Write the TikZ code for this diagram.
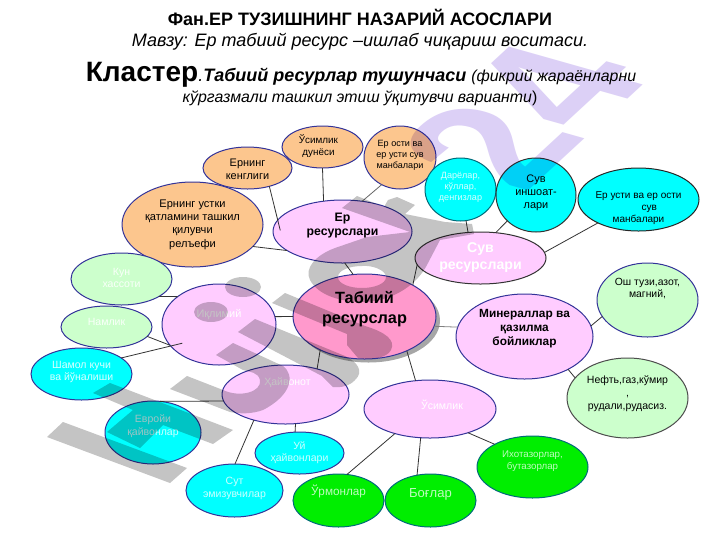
\documentclass[tikz,border=0pt]{standalone}
\usepackage{fontspec}
\usetikzlibrary{shapes.geometric}
\setmainfont{Liberation Sans}
\newcommand\fs[1]{\fontsize{#1}{1.2\dimexpr#1pt\relax}\selectfont}
\newcommand\lab[3]{\raisebox{\dimexpr #2pt*3/4-0.25em\relax}[0pt][0pt]{\makebox[0pt]{\hspace*{\dimexpr #1pt*3/2\relax}\begin{tabular}{@{}c@{}}#3\end{tabular}}}}
\definecolor{cOrange}{HTML}{FCC68E}
\definecolor{cLilac}{HTML}{FFCCFF}
\definecolor{cPink}{HTML}{FF99CC}
\definecolor{cPale}{HTML}{CCFFCC}
\definecolor{cCyan}{HTML}{00FFFF}
\definecolor{cGreen}{HTML}{00EE00}
\definecolor{cEdge}{HTML}{333399}
\definecolor{cTeal}{HTML}{006B7A}
\definecolor{wmGray}{HTML}{C4C4C4}
\definecolor{wmLilac}{HTML}{DCD0F6}
\tikzset{
  blob/.style={ellipse,inner sep=0pt,outer sep=0pt,draw=cEdge,line width=0.75pt},
  orangeb/.style={blob,fill=cOrange,text=black},
  lilacb/.style={blob,fill=cLilac},
  paleb/.style={blob,fill=cPale},
  cyanb/.style={blob,fill=cCyan,draw=cTeal},
  greenb/.style={blob,fill=cGreen,draw=cTeal},
  conn/.style={draw=black!80,line width=0.6pt},
  head/.style={inner sep=0pt,anchor=base,align=center},
  wmg/.style={fill=wmGray,draw=none},
}
\newcommand\blobnode[7]{\node[#6,minimum width=1.5*#4pt,minimum height=1.5*#5pt] (#1) at (#2,#3) {#7};}
\begin{document}
\begin{tikzpicture}[x=0.75pt,y=-0.75pt]
\useasboundingbox (0,0) rectangle (720,540);
\fill[white] (0,0) rectangle (720,540);
% headings
\node[head] (h1) at (360,25) {\fs{13.5}\bfseries Фан.ЕР ТУЗИШНИНГ НАЗАРИЙ АСОСЛАРИ};
\node[head] (h2) at (360,46) {\fs{13.5}\itshape Мавзу: Ер табиий ресурс –ишлаб чиқариш воситаси.};
\node[head] (h3) at (361,81) {\fs{21}\bfseries Кластер\fs{13.5}\mdseries\itshape .\bfseries Табиий ресурлар тушунчаси \fs{11.9}\mdseries (фикрий жараёнларни};
\node[head] (h4) at (360,102) {\fs{11.9}\itshape кўргазмали ташкил этиш ўқитувчи варианти\upshape)};
% shadow
\fill[black!35] (368.5,320.5) ellipse [x radius=71.5,y radius=42];
% nodes
\blobnode{ust}{192.5}{224.5}{70.5}{42.5}{orangeb,font=\fs{8.3}}{\lab{0}{0}{Ернинг устки\\қатламини ташкил\\қилувчи\\релъефи}}
\blobnode{ken}{247.5}{168}{44.5}{21}{orangeb,font=\fs{8.2}}{\lab{0}{-2}{Ернинг\\кенглиги}}
\blobnode{osim}{322.5}{147}{40.5}{21}{orangeb,font=\fs{7.4}}{\lab{-4}{0}{Ўсимлик\\дунёси}}
\blobnode{ost}{400}{157.5}{36}{31.5}{orangeb,font=\fs{6.8}}{\lab{0}{2}{Ер ости ва\\ер усти сув\\манбалари}}
\blobnode{er}{342.5}{231.5}{69.5}{31.5}{lilacb,font=\fs{9.2}\bfseries}{\lab{0}{6}{Ер\\ресурслари}}
\blobnode{dar}{460.5}{189.5}{35.5}{31.5}{cyanb,text=white!85!cCyan,font=\fs{6.8}}{\lab{0}{2}{Дарёлар,\\кўллар,\\денгизлар}}
\blobnode{ins}{536}{195}{40}{37}{cyanb,draw=black!80,font=\fs{8.2}}{\lab{0}{2}{Сув\\иншоат-\\лари}}
\blobnode{yer}{638.5}{199.5}{60.5}{31.5}{cyanb,draw=black!85,font=\fs{7.5}}{\lab{0}{-8}{Ер усти ва ер ости\\\hspace*{16pt}сув\\манбалари}}
\blobnode{suv}{480.5}{258}{65.5}{26}{lilacb,draw=black!80,text=white,font=\fs{10.6}\bfseries}{\lab{0}{0}{Сув\\ресурслари}}
\blobnode{tab}{364.5}{316.5}{71.5}{42.5}{lilacb,fill=cPink,font=\fs{12.2}\bfseries}{\lab{0}{7}{Табиий\\ресурслар}}
\blobnode{min}{524.5}{336.5}{68.5}{42.5}{lilacb,font=\fs{8.9}\bfseries}{\lab{0}{8}{Минераллар ва\\қазилма\\бойликлар}}
\blobnode{osh}{647.5}{300}{50.5}{37}{paleb,font=\fs{7.8}}{\lab{0}{11}{Ош тузи,азот,\\магний,}}
\blobnode{nef}{627.5}{398}{60.5}{40}{paleb,draw=black!70,font=\fs{7.9}}{\lab{0}{4}{Нефть,газ,кўмир\\,\\рудали,рудасиз.}}
\blobnode{usi}{430}{409}{66}{29}{lilacb,text=white,font=\fs{7.9}}{\lab{12}{2}{Ўсимлик}}
\blobnode{ixo}{532.5}{467}{55.5}{31}{greenb,text=white!75!cGreen,font=\fs{7.3}}{\lab{0}{6}{Ихотазорлар,\\бутазорлар}}
\blobnode{urm}{338.5}{500.5}{45.5}{26.5}{greenb,text=white!75!cGreen,font=\fs{8.8}}{\lab{0}{8}{Ўрмонлар}}
\blobnode{bog}{430.5}{500.5}{45.5}{26.5}{greenb,text=white!75!cGreen,font=\fs{9.8}}{\lab{0}{6}{Боғлар}}
\blobnode{hay}{285.5}{394.5}{63.5}{29.5}{lilacb,text=white,font=\fs{7.9}}{\lab{2}{12}{Ҳайвонот}}
\blobnode{sut}{234.5}{490.5}{48.5}{26.5}{cyanb,draw=cEdge,text=white!80!cCyan,font=\fs{7.9}}{\lab{0}{2}{Сут\\эмизувчилар}}
\blobnode{uy}{299.5}{453}{44.5}{21}{cyanb,draw=cEdge,text=white!80!cCyan,font=\fs{7.9}}{\lab{0}{0}{Уй\\ҳайвонлари}}
\blobnode{evr}{153}{432.5}{48}{31.5}{cyanb,draw=cEdge,text=white!80!cCyan,font=\fs{7.9}}{\lab{0}{6}{Евройи\\қайвонлар}}
\blobnode{sha}{81.5}{374}{50.5}{26}{cyanb,draw=cEdge,text=white!85!cCyan,font=\fs{7.9}}{\lab{0}{2}{Шамол кучи\\ва йўналиши}}
\blobnode{iql}{219}{324.5}{57}{40.5}{lilacb,text=white,font=\fs{8.2}}{\lab{0}{10}{Иқлимий}}
\blobnode{nam}{106.5}{327}{45.5}{21}{paleb,draw=cEdge,text=white!90!cPale,font=\fs{7.9}}{\lab{0}{4}{Намлик}}
\blobnode{kun}{121.5}{279}{50.5}{26}{paleb,draw=cEdge,text=white!90!cPale,font=\fs{7.9}}{\lab{0}{0}{Кун\\хассоти}}
% connectors
\draw[conn] (tab.105) -- (er.-86);
\draw[conn] (ust.-20) -- (er.199);
\draw[conn,shorten >=-8pt] (ken.-40) -- (er.170);
\draw[conn] (osim.-90) -- (er.122);
\draw[conn,draw=black!60] (ost.236) -- (er.57);
\draw[conn] (tab.33) -- (suv.186);
\draw[conn] (dar.-80) -- (suv.116);
\draw[conn] (ins.222) -- (suv.59);
\draw[conn] (yer.210) -- (suv.5);
\draw[conn,draw=black!50] (tab.-8) -- (min.172);
\draw[conn] (min.9) -- (osh.200);
\draw[conn] (min.-37) -- (nef.159);
\draw[conn] (tab.-39) -- (usi.117);
\draw[conn] (usi.-32) -- (ixo.149);
\draw[conn] (usi.-108) -- (bog.118);
\draw[conn] (usi.215) -- (urm.72);
\draw[conn] (tab.217) -- (hay.39);
\draw[conn] (tab.180) -- (iql.8);
\draw[conn] (hay.186) -- (evr.77);
\draw[conn] (hay.-71) -- (uy.102);
\draw[conn] (hay.219) -- (sut.89);
\draw[conn] (iql.146) -- (kun.-25);
\draw[conn] (iql.203) -- (nam.-13);
\draw[conn,shorten <=-9pt] (iql.204) -- (sha.22);
% watermark
\begin{scope}[blend mode=multiply]
\begin{scope}[shift={(522,115)},cm={.877,.81,-1.458,.412,(0,0)}]
\node[transform shape,text=wmLilac,inner sep=0pt,font=\fontsize{100}{100}\selectfont\bfseries] (wm) at (0,0) {24};
\end{scope}
\fill[wmg] (47,437) -- (63,422) -- (187,468) -- (170,483) -- cycle;
\fill[wmg] (93,393) -- (110,383) -- (233,430) -- (213,444) -- (163,425) -- (140,448) -- (107,432) -- (133,410) -- cycle;
\fill[wmg] (216,355) -- (233,343) -- (283,366) .. controls (295,375) and (292,395) .. (263,410) .. controls (252,414) and (240,414) .. (230,412) -- (170,389) -- (187,376) -- (223,390) .. controls (240,398) and (262,392) .. (260,380) .. controls (258,372) and (250,372) .. (243,370) -- cycle;
\fill[wmg] (238,332) -- (255,319) -- (345,356) .. controls (358,362) and (364,372) .. (355,380) .. controls (350,386) and (340,388) .. (333,387) -- (322,376) -- cycle;
\fill[wmg] (272,303) -- (285,293) -- (365,326) .. controls (385,332) and (396,340) .. (391,350) .. controls (387,358) and (372,360) .. (358,358) -- (347,345) -- (347,334) -- cycle;
\fill[wmg] (243,287) ellipse [x radius=18,y radius=10];
\fill[wmg] (211,312) ellipse [x radius=17,y radius=10];
\fill[wmg,even odd rule] (342,208) -- (357,196) -- (384,207) -- (388,200) -- (397,197) -- (415,205) -- (405,214) -- (445,222) -- (472,224) -- (474,234) -- (440,240) -- (428,263) .. controls (415,290) and (385,302) .. (363,302) .. controls (340,302) and (318,295) .. (310,280) .. controls (304,268) and (316,255) .. (335,248) -- (367,237) -- (410,232) -- cycle (386,277) .. controls (386,270) and (372,265) .. (362,266) .. controls (350,266) and (338,270) .. (338,277) .. controls (338,284) and (350,288) .. (362,288) .. controls (374,288) and (386,284) .. (386,277) -- cycle;
\end{scope}
\end{tikzpicture}
\end{document}
